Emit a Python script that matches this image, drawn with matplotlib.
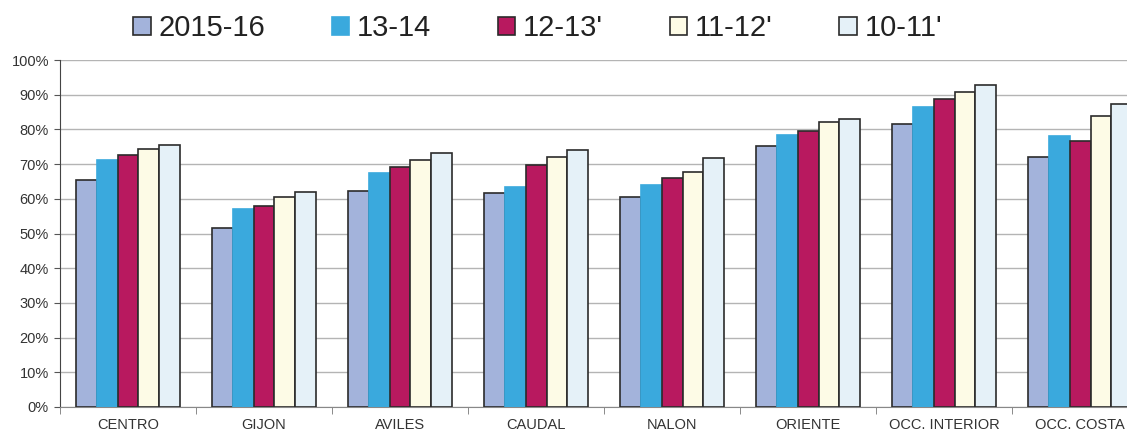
import numpy as np
import matplotlib
import matplotlib.pyplot as plt
from matplotlib.ticker import FixedLocator, PercentFormatter

matplotlib.use("Agg")
plt.rcParams['font.family'] = ['Liberation Sans', 'DejaVu Sans']

zones = ['CENTRO', 'GIJON', 'AVILES', 'CAUDAL', 'NALON', 'ORIENTE',
         'OCC. INTERIOR', 'OCC. COSTA']
series = ['2015-16', '13-14', "12-13'", "11-12'", "10-11'"]
v_2015_16 = [65.4, 51.5, 62.2, 61.8, 60.6, 75.2, 81.6, 72.0]
v_13_14 = [71.2, 57.0, 67.5, 63.5, 64.0, 78.4, 86.5, 78.1]
v_12_13 = [72.7, 58.0, 69.3, 69.7, 65.9, 79.5, 88.7, 76.7]
v_11_12 = [74.3, 60.5, 71.2, 72.1, 67.8, 82.0, 90.9, 84.0]
v_10_11 = [75.5, 62.0, 73.3, 74.2, 71.7, 82.9, 92.8, 87.3]
values = [v_2015_16, v_13_14, v_12_13, v_11_12, v_10_11]

colors = ['#a3b3db', '#3aa9dd', '#b8195f', '#fdfbe6', '#e5f1f8']
edges = ['#2b2b2b', '#3aa9dd', '#2b2b2b', '#2b2b2b', '#2b2b2b']

fig = plt.figure(figsize=(11.27, 4.34), dpi=100)
ax = fig.add_axes([60 / 1127, 27 / 434, 1 - 60 / 1127, 347 / 434])

x = np.arange(len(zones))
w = 0.154
for i, (name, vals) in enumerate(zip(series, values)):
    ax.bar(x + (i - 2) * w, vals, w, color=colors[i], edgecolor=edges[i],
           linewidth=1.2, label=name, zorder=3)

ax.set_ylim(0, 100)
ax.set_xlim(-0.5, 7.345)
ax.yaxis.set_major_locator(FixedLocator(np.arange(0, 101, 10)))
ax.yaxis.set_major_formatter(PercentFormatter(decimals=0))
ax.grid(axis='y', color='#b4b4b4', linewidth=1, zorder=0)

ax.set_xticks(x)
ax.set_xticklabels(zones, fontsize=10.5, color='#333333')
ax.tick_params(axis='x', which='major', length=0, pad=8)
ax.xaxis.set_minor_locator(FixedLocator(np.arange(-0.5, 8, 1)))
ax.tick_params(axis='x', which='minor', length=5, color='#777777')
ax.tick_params(axis='y', labelsize=10.5, labelcolor='#333333', length=4,
               color='#555555', pad=4)

for s in ['top', 'right']:
    ax.spines[s].set_visible(False)
ax.spines['left'].set_color('#444444')
ax.spines['bottom'].set_color('#888888')

fig.legend(loc='center', bbox_to_anchor=(0.477, 0.935), ncol=5, frameon=False,
           fontsize=21, handlelength=0.6, handleheight=0.6,
           handletextpad=0.25, columnspacing=2.3, labelcolor='#222222')

fig.savefig('out.png', dpi=100)
